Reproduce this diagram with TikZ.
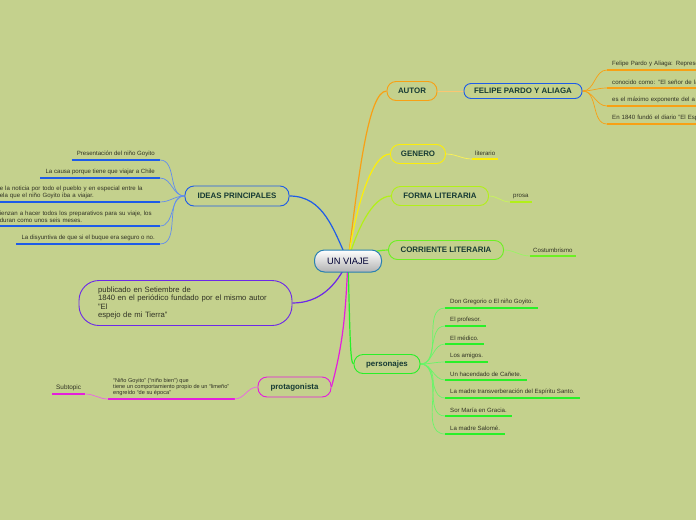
\documentclass[tikz,border=0pt]{standalone}
\usepackage{fontspec}
\setmainfont{Liberation Sans}
\usetikzlibrary{positioning}
\pgfdeclarelayer{backfill}
\pgfdeclarelayer{background}
\pgfsetlayers{backfill,background,main}

\definecolor{cBack}{RGB}{196,209,141}
\definecolor{cLabel}{RGB}{22,58,52}
\definecolor{cItem}{RGB}{48,50,36}
\definecolor{cRoot}{RGB}{40,128,178}
\definecolor{cOrange}{RGB}{248,160,20}
\definecolor{cYellow}{RGB}{252,238,10}
\definecolor{cLime}{RGB}{178,240,24}
\definecolor{cGreen}{RGB}{108,240,34}
\definecolor{cGreenP}{RGB}{40,240,40}
\definecolor{cBlue}{RGB}{30,92,232}
\definecolor{cPurple}{RGB}{108,40,232}
\definecolor{cMagenta}{RGB}{228,30,220}

\newcommand{\mmsmall}{\fontsize{6.1}{7}\selectfont}
\newcommand{\mmlabel}{\fontsize{7.9}{9}\selectfont\bfseries}

\begin{document}
\begin{tikzpicture}[x=1pt, y=-1pt,
  topic/.style={draw, rounded corners=9pt, line width=0.9pt, minimum height=19pt,
    inner sep=0pt, text=cLabel, font=\mmlabel},
  item/.style={inner xsep=5pt, inner ysep=3pt, text=cItem, font=\mmsmall, align=left},
  uline/.style={line width=1.8pt},
  branch/.style={line width=1.2pt},
  twig/.style={line width=0.7pt}]
  \useasboundingbox (0,0) rectangle (696,520);
  \begin{pgfonlayer}{backfill}
    \fill[cBack] (0,0) rectangle (696,520);
  \end{pgfonlayer}
  \clip (0,0) rectangle (696,520);

  % Root
  \node[draw=cRoot, line width=1pt, rounded corners=10pt, top color=white, bottom color=black!30,
    minimum width=67pt, minimum height=22pt, text=black!80!blue, font=\fontsize{9.3}{10}\selectfont]
    (viaje) at (348,261) {UN VIAJE};

  % Right side topics
  \node[topic, draw=cOrange, minimum width=50pt] (autor) at (412,91) {AUTOR};
  \node[topic, draw=cBlue, minimum width=118pt, minimum height=15pt, rounded corners=7pt] (felipe) at (523,91) {FELIPE PARDO Y ALIAGA};
  \node[topic, draw=cYellow, minimum width=55pt] (genero) at (418,154) {GENERO};
  \node[topic, draw=cLime, minimum width=97pt] (forma) at (440,196) {FORMA LITERARIA};
  \node[topic, draw=cGreen, minimum width=115pt] (corriente) at (446,250) {CORRIENTE LITERARIA};
  \node[topic, draw=cGreenP, minimum width=66pt] (personajes) at (387,364) {personajes};

  % Left side topics
  \node[topic, draw=cBlue, minimum width=104pt, minimum height=20pt] (ideas) at (237,196) {IDEAS PRINCIPALES};
  \node[draw=cPurple, line width=0.9pt, rounded corners=20pt, minimum height=45pt,
    text width=175pt, inner xsep=19pt, align=left, text=cItem, font=\fontsize{7.7}{8.4}\selectfont]
    (publicado) at (185.5,303) {publicado en Setiembre de\\1840 en el periódico fundado por el mismo autor\\"El\\espejo de mi Tierra"};
  \node[topic, draw=cMagenta, minimum width=73pt, minimum height=20pt] (protagonista) at (294.5,387) {protagonista};

  % Autor details
  \node[item, anchor=south west, text width=150pt] (f1) at (607,70) {Felipe Pardo y Aliaga: Represe};
  \node[item, anchor=south west, text width=150pt] (f2) at (607,88) {conocido como: "El señor de la};
  \node[item, anchor=south west, text width=150pt] (f3) at (607,106) {es el máximo exponente del a};
  \node[item, anchor=south west, text width=150pt] (f4) at (607,124) {En 1840 fundó el diario "El Esp};

  % Short leaves
  \node[item, anchor=south west, inner xsep=3pt] (literario) at (472,159) {literario};
  \node[item, anchor=south west, inner xsep=3pt] (prosa) at (510,202) {prosa};
  \node[item, anchor=south west, inner xsep=3pt] (costumbrismo) at (530,256) {Costumbrismo};

  % Personajes
  \node[item, anchor=south west] (p1) at (445,308) {Don Gregorio o El niño Goyito.};
  \node[item, anchor=south west] (p2) at (445,326) {El profesor.};
  \node[item, anchor=south west] (p3) at (445,344) {El médico.};
  \node[item, anchor=south west] (p4) at (445,362) {Los amigos.};
  \node[item, anchor=south west] (p5) at (445,380) {Un hacendado de Cañete.};
  \node[item, anchor=south west] (p6) at (445,398) {La madre transverberación del Espíritu Santo.};
  \node[item, anchor=south west] (p7) at (445,416) {Sor María en Gracia.};
  \node[item, anchor=south west] (p8) at (445,434) {La madre Salomé.};

  % Ideas principales
  \node[item, anchor=south east] (i1) at (160,160) {Presentación del niño Goyito};
  \node[item, anchor=south east] (i2) at (160,178) {La causa porque tiene que viajar a Chile};
  \node[item, anchor=south east, text width=155pt] (i3) at (160,202) {e la noticia por todo el pueblo y en especial entre la\\ela que el niño Goyito iba a viajar.};
  \node[item, anchor=south east, text width=155pt] (i4) at (160,226) {ienzan a hacer todos los preparativos para su viaje, los\\duran como unos seis meses.};
  \node[item, anchor=south east] (i5) at (160,244) {La disyuntiva de que si el buque era seguro o no.};

  % Protagonista
  \node[item, anchor=south west, font=\fontsize{5.6}{6.2}\selectfont] (goyito) at (108,399) {“Niño Goyito” (“niño bien”) que\\tiene un comportamiento propio de un “limeño”\\engreído “de su época”};
  \node[item, anchor=south west, inner xsep=4pt, font=\fontsize{6.4}{7}\selectfont] (subtopic) at (52,394) {Subtopic};

  \begin{pgfonlayer}{background}
    % Underlines
    \foreach \n in {f1,f2,f3,f4} \draw[uline, cOrange] (\n.south west) -- (\n.south east);
    \draw[uline, cYellow] (literario.south west) -- (literario.south east);
    \draw[uline, cLime] (prosa.south west) -- (prosa.south east);
    \draw[uline, cGreen] (costumbrismo.south west) -- (costumbrismo.south east);
    \foreach \n in {p1,p2,p3,p4,p5,p6,p7,p8} \draw[uline, cGreenP] (\n.south west) -- (\n.south east);
    \foreach \n in {i1,i2,i3,i4,i5} \draw[uline, cBlue] (\n.south west) -- (\n.south east);
    \draw[uline, cMagenta] (goyito.south west) -- (goyito.south east);
    \draw[uline, cMagenta] (subtopic.south west) -- (subtopic.south east);

    % Main branches
    \draw[branch, cOrange] (viaje.center) .. controls (358,180) and (368,91) .. (autor.west);
    \draw[branch, cYellow] (viaje.center) .. controls (356,205) and (372,154) .. (genero.west);
    \draw[branch, cLime] (viaje.center) .. controls (356,232) and (372,196) .. (forma.west);
    \draw[branch, cGreen] (viaje.center) .. controls (362,255) and (375,250) .. (corriente.west);
    \draw[branch, cGreenP] (viaje.center) .. controls (350,330) and (350,364) .. (personajes.west);
    \draw[branch, cBlue] (viaje.center) to[out=115, in=0] (ideas.east);
    \draw[branch, cPurple] (viaje.center) to[out=-115, in=0] (publicado.east);
    \draw[branch, cMagenta] (viaje.center) to[out=-93, in=75] (protagonista.east);

    % Sub branches
    \draw[twig, cOrange!60] (autor.east) -- (felipe.west);
    \foreach \n in {f1,f2,f3,f4} \draw[twig, cOrange] (felipe.east) to[out=0, in=180] (\n.south west);
    \draw[twig, cYellow!70] (genero.east) to[out=0, in=180] (literario.south west);
    \draw[twig, cLime!70] (forma.east) to[out=0, in=180] (prosa.south west);
    \draw[twig, cGreen!70] (corriente.east) to[out=0, in=180] (costumbrismo.south west);
    \foreach \n in {p1,p2,p3,p4,p5,p6,p7,p8} \draw[twig, cGreenP!70] (personajes.east) to[out=0, in=180] (\n.south west);
    \foreach \n in {i1,i2,i3,i4,i5} \draw[twig, cBlue!70] (ideas.west) to[out=180, in=0] (\n.south east);
    \draw[twig, cMagenta!70] (protagonista.west) to[out=180, in=0] (goyito.south east);
    \draw[twig, cMagenta!70] (goyito.south west) to[out=180, in=0] (subtopic.south east);
  \end{pgfonlayer}
\end{tikzpicture}
\end{document}
